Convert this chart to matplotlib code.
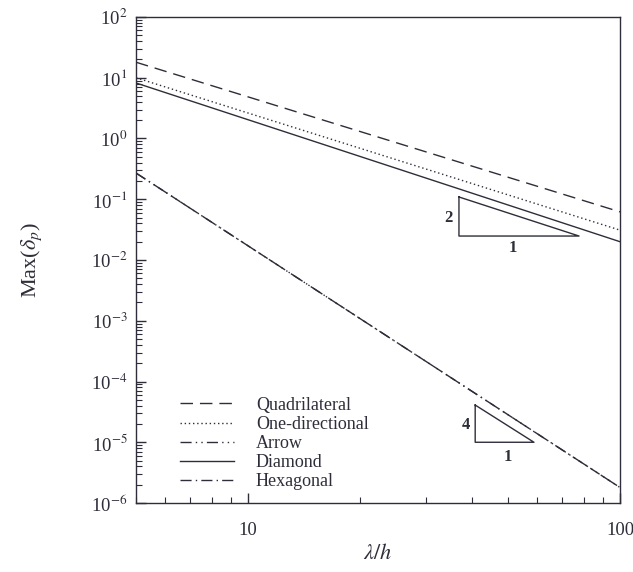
import numpy as np
import matplotlib
matplotlib.use("Agg")
import matplotlib.pyplot as plt
from matplotlib.ticker import LogLocator, NullFormatter, FixedLocator, FixedFormatter

plt.rcParams['font.family'] = ['Liberation Serif', 'DejaVu Serif']
plt.rcParams['mathtext.fontset'] = 'stix'

# Data: endpoints of each power-law line at x = 5 and x = 100
x_ends = [5, 100]
quadrilateral = [18.0, 0.062]
one_directional = [10.0, 0.031]
arrow = [0.27, 1.8e-6]
diamond = [8.2, 0.020]
hexagonal = [0.27, 1.8e-6]

labels = ["Quadrilateral", "One-directional", "Arrow", "Diamond", "Hexagonal"]

# slope triangles (annotation)
tri2_x = [36.9, 36.9, 77.6, 36.9]
tri2_y = [0.109, 0.0248, 0.0248, 0.109]
tri4_x = [40.8, 40.8, 58.7, 40.8]
tri4_y = [4.1e-5, 1.0e-5, 1.0e-5, 4.1e-5]

x_ticks = [10, 100]
x_ticklabels = ["10", "100"]
y_ticks = [1e-6, 1e-5, 1e-4, 1e-3, 1e-2, 1e-1, 1e0, 1e1, 1e2]
y_ticklabels = [r"10$^{-6}$", r"10$^{-5}$", r"10$^{-4}$", r"10$^{-3}$", r"10$^{-2}$",
                r"10$^{-1}$", r"10$^{0}$", r"10$^{1}$", r"10$^{2}$"]

col = "#2e2e3a"
fig = plt.figure(figsize=(6.33, 5.72), dpi=100)
ax = fig.add_axes([0.2149, 0.1206, 0.7646, 0.8497])

styles = [
    (0, (9, 5)),
    (0, (1, 2)),
    (0, (8, 3, 1, 3, 1, 3)),
    '-',
    (0, (8, 3, 1, 3)),
]
series = [quadrilateral, one_directional, arrow, diamond, hexagonal]
for s, ls, lab in zip(series, styles, labels):
    ax.plot(x_ends, s, color=col, lw=1.0, ls=ls, label=lab)

ax.plot(tri2_x, tri2_y, color=col, lw=1.0)
ax.plot(tri4_x, tri4_y, color=col, lw=1.0)
ax.text(34.5, 0.05, "2", fontsize=12, fontweight='bold', color=col, ha='center', va='center')
ax.text(51.5, 0.0155, "1", fontsize=12, fontweight='bold', color=col, ha='center', va='center')
ax.text(38.5, 1.95e-5, "4", fontsize=12, fontweight='bold', color=col, ha='center', va='center')
ax.text(50.0, 5.8e-6, "1", fontsize=12, fontweight='bold', color=col, ha='center', va='center')

ax.set_xscale('log')
ax.set_yscale('log')
ax.set_xlim(5, 100)
ax.set_ylim(1e-6, 1e2)

ax.xaxis.set_major_locator(FixedLocator(x_ticks))
ax.xaxis.set_major_formatter(FixedFormatter(x_ticklabels))
ax.xaxis.set_minor_locator(LogLocator(base=10, subs=np.arange(2, 10), numticks=20))
ax.xaxis.set_minor_formatter(NullFormatter())
ax.yaxis.set_major_locator(FixedLocator(y_ticks))
ax.yaxis.set_major_formatter(FixedFormatter(y_ticklabels))
ax.yaxis.set_minor_locator(LogLocator(base=10, subs=np.arange(2, 10), numticks=20))
ax.yaxis.set_minor_formatter(NullFormatter())

ax.tick_params(which='both', direction='in', top=False, right=False, colors=col, labelsize=13.5)
ax.tick_params(which='major', length=7, width=1)
ax.tick_params(which='minor', length=4, width=0.8)
ax.tick_params(axis='x', pad=14)
ax.tick_params(axis='y', pad=6)
for sp in ax.spines.values():
    sp.set_color(col)
    sp.set_linewidth(1.0)

ax.set_xlabel(r"$\lambda/h$", fontsize=16, color=col, labelpad=3)
ax.set_ylabel(r"Max($\delta_p$)", fontsize=16, color=col, labelpad=34)

leg = ax.legend(loc='lower left', bbox_to_anchor=(0.065, 0.0), frameon=False, fontsize=13,
                handlelength=3.0, handletextpad=1.2, labelspacing=0.12, borderaxespad=0.3)
for t in leg.get_texts():
    t.set_color(col)

fig.savefig("out.png", dpi=100)
